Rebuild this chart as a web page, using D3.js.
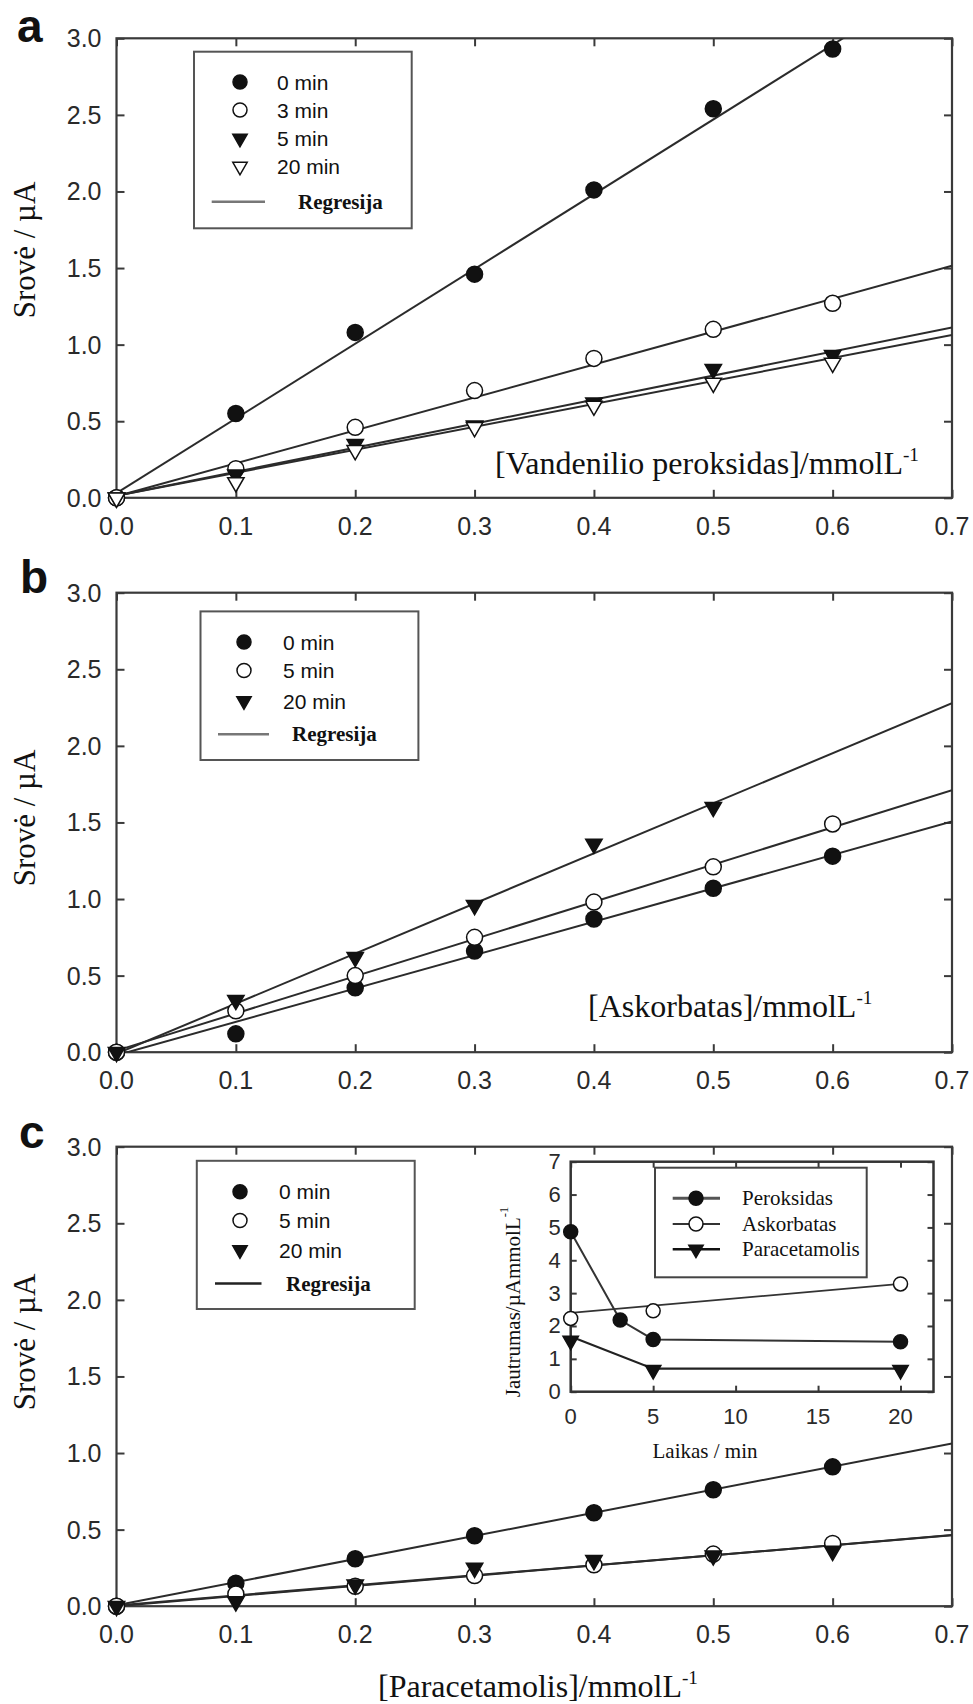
<!DOCTYPE html>
<html>
<head>
<meta charset="utf-8">
<script src="https://cdn.jsdelivr.net/npm/d3@7"></script>
<style>
  body { margin: 0; background: #fff; }
  svg { display: block; }
</style>
</head>
<body>
<svg id="fig" width="973" height="1704"></svg>
<script>
// ---- shared axes ----
const conc = [0, 0.1, 0.2, 0.3, 0.4, 0.5, 0.6];          // mmol/L
const xTickValues = [0, 0.1, 0.2, 0.3, 0.4, 0.5, 0.6, 0.7];
const yTickValues = [0, 0.5, 1.0, 1.5, 2.0, 2.5, 3.0];

// ---- a: hydrogen peroxide ----
const peroxLabels = ["0 min", "3 min", "5 min", "20 min"];
const perox0  = [0.00, 0.55, 1.08, 1.46, 2.01, 2.54, 2.93];
const perox3  = [0.00, 0.19, 0.46, 0.70, 0.91, 1.10, 1.27];
const perox5  = [0.00, 0.15, 0.35, 0.47, 0.62, 0.84, 0.93];
const perox20 = [0.00, 0.10, 0.31, 0.46, 0.60, 0.75, 0.88];
const peroxSlope     = [4.88, 2.15, 1.57, 1.50];
const peroxIntercept = [0.03, 0.01, 0.013, 0.013];

// ---- b: ascorbate ----
const ascLabels = ["0 min", "5 min", "20 min"];
const asc0  = [0.00, 0.12, 0.42, 0.66, 0.87, 1.07, 1.28];
const asc5  = [0.00, 0.27, 0.50, 0.75, 0.98, 1.21, 1.49];
const asc20 = [0.00, 0.34, 0.62, 0.96, 1.36, 1.60];
const ascSlope     = [2.18, 2.43, 3.27];
const ascIntercept = [-0.02, 0.01, -0.01];

// ---- c: paracetamol ----
const paraLabels = ["0 min", "5 min", "20 min"];
const para0  = [0.00, 0.15, 0.31, 0.46, 0.61, 0.76, 0.91];
const para5  = [0.00, 0.08, 0.13, 0.20, 0.27, 0.34, 0.41];
const para20 = [0.00, 0.03, 0.14, 0.25, 0.30, 0.33, 0.36];
const paraSlope     = [1.51, 0.664, 0.655];
const paraIntercept = [0.006, 0.0, 0.005];

// ---- inset: sensitivity vs. time ----
const insetLabels = ["Peroksidas", "Askorbatas", "Paracetamolis"];
const sensPeroxTime = [0, 3, 5, 20];
const sensPerox     = [4.87, 2.18, 1.59, 1.52];
const sensAscTime   = [0, 5, 20];
const sensAsc       = [2.23, 2.46, 3.28];
const sensAscFitTime = [0, 20];
const sensAscFit     = [2.40, 3.28];
const sensParaTime  = [0, 5, 20];
const sensPara      = [1.55, 0.66, 0.66];
const sensParaLine  = [1.68, 0.70, 0.70];
const insetXTicks = [0, 5, 10, 15, 20];
const insetYTicks = [0, 1, 2, 3, 4, 5, 6, 7];

// ---- drawing ----
const svg = d3.select("#fig");
const SANS = "'Liberation Sans', Arial, sans-serif";
const SERIF = "'Liberation Serif', 'Times New Roman', serif";
const AXIS = "#3a3a3a";
const INK = "#111";

const frameLeft = 116.5, frameRight = 952, frameH = 459.5;

function marker(g, type, x, y, r) {
  const filled = type.startsWith("filled");
  if (type.endsWith("Circle")) {
    g.append("circle").attr("cx", x).attr("cy", y).attr("r", r)
      .attr("fill", filled ? INK : "#fff").attr("stroke", INK).attr("stroke-width", 1.5);
  } else {
    const side = r * 2.05;
    const path = d3.symbol().type(d3.symbolTriangle).size(Math.sqrt(3) / 4 * side * side)();
    g.append("path").attr("d", path)
      .attr("transform", `translate(${x},${y}) rotate(180)`)
      .attr("fill", filled ? INK : "#fff").attr("stroke", INK).attr("stroke-width", 1.5);
  }
}

function superLabel(sel, main, sup, size) {
  sel.append("tspan").text(main);
  sel.append("tspan").text(sup).attr("font-size", size * 0.6).attr("dy", -size * 0.42);
}

function drawPanel(p, idx) {
  const top = p.top, bottom = top + frameH;
  const x = d3.scaleLinear().domain([0, 0.7]).range([frameLeft, frameRight]);
  const y = d3.scaleLinear().domain([0, 3]).range([bottom, top]);
  const g = svg.append("g");

  const clipId = "clip" + idx;
  svg.append("clipPath").attr("id", clipId).append("rect")
    .attr("x", frameLeft).attr("y", top).attr("width", frameRight - frameLeft).attr("height", frameH);

  // inward ticks on all four sides
  const tick = 8;
  g.append("g").attr("transform", `translate(0,${bottom})`)
    .call(d3.axisBottom(x).tickValues(xTickValues).tickSize(-tick).tickFormat(""))
    .call(a => a.select(".domain").remove());
  g.append("g").attr("transform", `translate(0,${top})`)
    .call(d3.axisTop(x).tickValues(xTickValues).tickSize(-tick).tickFormat(""))
    .call(a => a.select(".domain").remove());
  g.append("g").attr("transform", `translate(${frameLeft},0)`)
    .call(d3.axisLeft(y).tickValues(yTickValues).tickSize(-tick).tickFormat(""))
    .call(a => a.select(".domain").remove());
  g.append("g").attr("transform", `translate(${frameRight},0)`)
    .call(d3.axisRight(y).tickValues(yTickValues).tickSize(-tick).tickFormat(""))
    .call(a => a.select(".domain").remove());
  g.selectAll(".tick line").attr("stroke", AXIS).attr("stroke-width", 2);

  g.append("rect").attr("x", frameLeft).attr("y", top)
    .attr("width", frameRight - frameLeft).attr("height", frameH)
    .attr("fill", "none").attr("stroke", AXIS).attr("stroke-width", 2.2);

  // tick labels
  g.selectAll(".xl").data(xTickValues).join("text")
    .attr("x", d => x(d)).attr("y", bottom + 28)
    .attr("text-anchor", "middle").attr("dominant-baseline", "central")
    .attr("font-family", SANS).attr("font-size", 25).attr("fill", "#2a2a2a")
    .text(d => d.toFixed(1));
  g.selectAll(".yl").data(yTickValues).join("text")
    .attr("x", frameLeft - 15).attr("y", d => y(d))
    .attr("text-anchor", "end").attr("dominant-baseline", "central")
    .attr("font-family", SANS).attr("font-size", 25).attr("fill", "#2a2a2a")
    .text(d => d.toFixed(1));

  // panel letter
  g.append("text").attr("x", p.letterX).attr("y", p.letterY)
    .attr("font-family", SANS).attr("font-weight", "bold").attr("font-size", 46)
    .attr("fill", INK).text(p.letter);

  // y title
  g.append("text")
    .attr("transform", `translate(${24},${p.yTitleY}) rotate(-90)`)
    .attr("text-anchor", "middle").attr("dominant-baseline", "central")
    .attr("font-family", SERIF).attr("font-size", 31).attr("fill", INK)
    .text("Srovė / µA");

  // x title
  const xt = g.append("text").attr("x", p.xTitle[0]).attr("y", p.xTitle[1])
    .attr("text-anchor", p.xTitle[2]).attr("font-family", SERIF).attr("font-size", 32).attr("fill", INK);
  superLabel(xt, p.xTitleText, "-1", 32);

  // regression lines
  const lines = g.append("g").attr("clip-path", `url(#${clipId})`);
  p.series.forEach(s => {
    lines.append("line")
      .attr("x1", x(0)).attr("y1", y(s.intercept))
      .attr("x2", x(0.7)).attr("y2", y(s.intercept + s.slope * 0.7))
      .attr("stroke", "#2b2b2b").attr("stroke-width", 2);
  });

  // data points
  const pts = g.append("g");
  p.series.forEach(s => {
    s.values.forEach((v, i) => marker(pts, s.type, x(conc[i]), y(v), 8));
  });

  // legend
  const L = p.legend;
  const lg = g.append("g");
  lg.append("rect").attr("x", L.box[0]).attr("y", L.box[1])
    .attr("width", L.box[2] - L.box[0]).attr("height", L.box[3] - L.box[1])
    .attr("fill", "#fff").attr("stroke", "#555").attr("stroke-width", 2);
  p.series.forEach((s, i) => {
    marker(lg, s.type, L.markerX, L.rows[i], 7);
    lg.append("text").attr("x", L.textX).attr("y", L.rows[i])
      .attr("dominant-baseline", "central").attr("font-family", SANS)
      .attr("font-size", 21).attr("fill", INK).text(s.label);
  });
  lg.append("line").attr("x1", L.line[0]).attr("x2", L.line[1])
    .attr("y1", L.regY).attr("y2", L.regY)
    .attr("stroke", L.lineColor).attr("stroke-width", 2.5);
  lg.append("text").attr("x", L.regTextX).attr("y", L.regY)
    .attr("dominant-baseline", "central").attr("font-family", SERIF)
    .attr("font-weight", "bold").attr("font-size", 21).attr("fill", INK).text("Regresija");
}

function seriesOf(labels, values, types, slopes, intercepts) {
  return labels.map((label, i) => ({
    label, values: values[i], type: types[i], slope: slopes[i], intercept: intercepts[i]
  }));
}

const panels = [
  {
    letter: "a", letterX: 17, letterY: 42, top: 38.3, yTitleY: 250,
    xTitleText: "[Vandenilio peroksidas]/mmolL", xTitle: [495, 474, "start"],
    series: seriesOf(peroxLabels, [perox0, perox3, perox5, perox20],
      ["filledCircle", "openCircle", "filledTri", "openTri"], peroxSlope, peroxIntercept),
    legend: { box: [194, 51.7, 411.7, 228.3], markerX: 240, textX: 277,
      rows: [82, 110, 138.5, 166.5], regY: 201.7, line: [211.7, 265], regTextX: 298, lineColor: "#777" }
  },
  {
    letter: "b", letterX: 20, letterY: 593, top: 592.7, yTitleY: 818,
    xTitleText: "[Askorbatas]/mmolL", xTitle: [588, 1017, "start"],
    series: seriesOf(ascLabels, [asc0, asc5, asc20],
      ["filledCircle", "openCircle", "filledTri"], ascSlope, ascIntercept),
    legend: { box: [200.5, 611.4, 418.4, 760], markerX: 244, textX: 283,
      rows: [642, 670.5, 701], regY: 734.3, line: [218, 269], regTextX: 292, lineColor: "#777" }
  },
  {
    letter: "c", letterX: 19, letterY: 1148, top: 1146.7, yTitleY: 1342,
    xTitleText: "[Paracetamolis]/mmolL", xTitle: [538, 1697, "middle"],
    series: seriesOf(paraLabels, [para0, para5, para20],
      ["filledCircle", "openCircle", "filledTri"], paraSlope, paraIntercept),
    legend: { box: [196.8, 1160.8, 414.7, 1309], markerX: 240, textX: 279,
      rows: [1191.7, 1220.5, 1250], regY: 1283.5, line: [215, 261.5], regTextX: 286, lineColor: "#222" }
  }
];
panels.forEach(drawPanel);

// ---- inset: sensitivity over time ----
(function drawInset() {
  const L = 570.7, R = 933.5, T = 1161.7, B = 1391.7;
  const x = d3.scaleLinear().domain([0, 22]).range([L, R]);
  const y = d3.scaleLinear().domain([0, 7]).range([B, T]);
  const g = svg.append("g");
  g.append("rect").attr("x", L).attr("y", T).attr("width", R - L).attr("height", B - T)
    .attr("fill", "#fff");

  const tick = 6;
  g.append("g").attr("transform", `translate(0,${B})`)
    .call(d3.axisBottom(x).tickValues(insetXTicks).tickSize(-tick).tickFormat(""))
    .call(a => a.select(".domain").remove());
  g.append("g").attr("transform", `translate(0,${T})`)
    .call(d3.axisTop(x).tickValues(insetXTicks).tickSize(-tick).tickFormat(""))
    .call(a => a.select(".domain").remove());
  g.append("g").attr("transform", `translate(${L},0)`)
    .call(d3.axisLeft(y).tickValues(insetYTicks).tickSize(-tick).tickFormat(""))
    .call(a => a.select(".domain").remove());
  g.append("g").attr("transform", `translate(${R},0)`)
    .call(d3.axisRight(y).tickValues(insetYTicks).tickSize(-tick).tickFormat(""))
    .call(a => a.select(".domain").remove());
  g.selectAll(".tick line").attr("stroke", AXIS).attr("stroke-width", 2);
  g.append("rect").attr("x", L).attr("y", T).attr("width", R - L).attr("height", B - T)
    .attr("fill", "none").attr("stroke", "#333").attr("stroke-width", 2.5);

  g.selectAll(".ixl").data(insetXTicks).join("text")
    .attr("x", d => x(d)).attr("y", B + 25)
    .attr("text-anchor", "middle").attr("dominant-baseline", "central")
    .attr("font-family", SANS).attr("font-size", 22).attr("fill", "#2a2a2a").text(d => d);
  g.selectAll(".iyl").data(insetYTicks).join("text")
    .attr("x", L - 10).attr("y", d => y(d))
    .attr("text-anchor", "end").attr("dominant-baseline", "central")
    .attr("font-family", SANS).attr("font-size", 22).attr("fill", "#2a2a2a").text(d => d);

  g.append("text").attr("x", 705).attr("y", 1458).attr("text-anchor", "middle")
    .attr("font-family", SERIF).attr("font-size", 21).attr("fill", INK).text("Laikas / min");
  const yt = g.append("text")
    .attr("transform", `translate(${513},${1302}) rotate(-90)`)
    .attr("text-anchor", "middle").attr("dominant-baseline", "central")
    .attr("font-family", SERIF).attr("font-size", 21).attr("fill", INK);
  superLabel(yt, "Jautrumas/µAmmolL", "-1", 21);

  const line = d3.line().x(d => x(d[0])).y(d => y(d[1]));
  g.append("path").attr("d", line(d3.zip(sensPeroxTime, sensPerox)))
    .attr("fill", "none").attr("stroke", "#333").attr("stroke-width", 2);
  g.append("path").attr("d", line(d3.zip(sensAscFitTime, sensAscFit)))
    .attr("fill", "none").attr("stroke", "#333").attr("stroke-width", 1.8);
  g.append("path").attr("d", line(d3.zip(sensParaTime, sensParaLine)))
    .attr("fill", "none").attr("stroke", "#222").attr("stroke-width", 2.2);

  sensPeroxTime.forEach((t, i) => marker(g, "filledCircle", x(t), y(sensPerox[i]), 7));
  sensAscTime.forEach((t, i) => marker(g, "openCircle", x(t), y(sensAsc[i]), 7));
  sensParaTime.forEach((t, i) => marker(g, "filledTri", x(t), y(sensPara[i]), 7.5));

  // inset legend
  const box = [655, 1167.7, 866.7, 1277.3];
  const rows = [1198.3, 1224, 1249.3];
  const types = ["filledCircle", "openCircle", "filledTri"];
  const widths = [3, 1.8, 2.5];
  const colors = ["#555", "#333", "#111"];
  g.append("rect").attr("x", box[0]).attr("y", box[1])
    .attr("width", box[2] - box[0]).attr("height", box[3] - box[1])
    .attr("fill", "#fff").attr("stroke", "#444").attr("stroke-width", 2);
  insetLabels.forEach((lab, i) => {
    g.append("line").attr("x1", 672.7).attr("x2", 720).attr("y1", rows[i]).attr("y2", rows[i])
      .attr("stroke", colors[i]).attr("stroke-width", widths[i]);
    marker(g, types[i], 696, rows[i], 7);
    g.append("text").attr("x", 742).attr("y", rows[i]).attr("dominant-baseline", "central")
      .attr("font-family", SERIF).attr("font-size", 21).attr("fill", INK).text(lab);
  });
})();
</script>
</body>
</html>
